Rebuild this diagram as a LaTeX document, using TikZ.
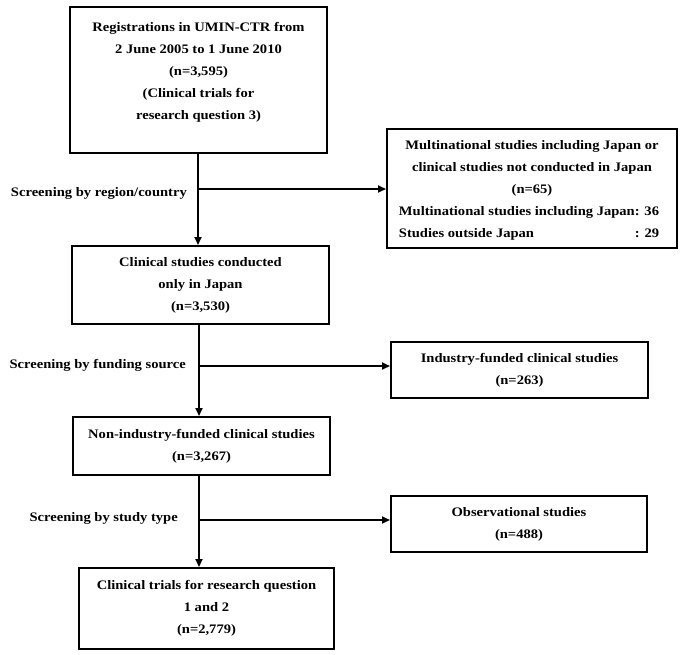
\documentclass[tikz,border=0pt]{standalone}
\usepackage{fontspec}
\setmainfont{Liberation Serif}[FakeStretch=1.12]
\usetikzlibrary{arrows.meta}
\begin{document}
\begin{tikzpicture}[x=1pt,y=-1pt,
  box/.style={draw,line width=2pt,inner sep=0pt,align=center},
  txt/.style={inner sep=0pt,align=center},
  lbl/.style={inner sep=0pt,anchor=east},
  arr/.style={line width=1.7pt,-{Triangle[length=8pt,width=7pt]}},
  font={\fontsize{13}{22}\selectfont\bfseries}]
\useasboundingbox (0,0) rectangle (685,654);
% boxes
\node[box,minimum width=257pt,minimum height=146pt] (box1) at (198.5,80) {};
\node[txt] (t1) at (198.5,72) {Registrations in UMIN-CTR from\\2 June 2005 to 1 June 2010\\(n=3,595)\\(Clinical trials for\\research question 3)};
\node[box,minimum width=290pt,minimum height=119pt] (multi) at (532,188.5) {};
\node[txt] (tm) at (532,192) {Multinational studies including Japan or\\clinical studies not conducted in Japan\\(n=65)\\\hspace*{-6pt}\begin{tabular}[t]{@{}l@{}l@{}}Multinational studies including Japan&: 36\\Studies outside Japan&: 29\end{tabular}};
\node[box,minimum width=257pt,minimum height=78pt] (box2) at (200.5,285) {Clinical studies conducted\\only in Japan\\(n=3,530)};
\node[box,minimum width=257pt,minimum height=56pt] (ind) at (519.5,370) {Industry-funded clinical studies\\(n=263)};
\node[box,minimum width=257pt,minimum height=58pt] (box3) at (201.5,446) {Non-industry-funded clinical studies\\(n=3,267)};
\node[box,minimum width=256pt,minimum height=56pt] (obs) at (519,524) {Observational studies\\(n=488)};
\node[box,minimum width=255pt,minimum height=81pt] (box4) at (206.5,608.5) {Clinical trials for research question\\1 and 2\\(n=2,779)};
% branch points
\coordinate (s1) at (198,153);
\coordinate (b1) at (198,189);
\coordinate (s2) at (199,324);
\coordinate (b2) at (199,366);
\coordinate (s3) at (199,475);
\coordinate (b3) at (199,520);
% connectors
\draw[arr] (s1) -- (s1 |- box2.north);
\draw[arr] (b1) -- (multi.west |- b1);
\draw[arr] (s2) -- (s2 |- box3.north);
\draw[arr] (b2) -- (ind.west |- b2);
\draw[arr] (s3) -- (s3 |- box4.north);
\draw[arr] (b3) -- (obs.west |- b3);
% labels
\node[lbl] (l1) at (187,193) {Screening by region/country};
\node[lbl] (l2) at (186,365) {Screening by funding source};
\node[lbl] (l3) at (178,518) {Screening by study type};
\end{tikzpicture}
\end{document}
